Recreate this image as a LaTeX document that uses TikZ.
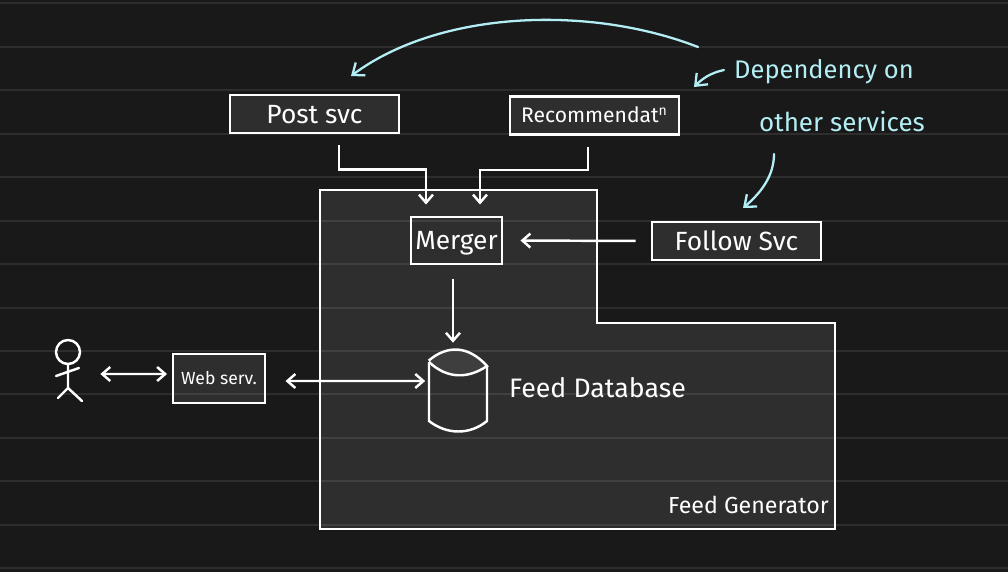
\documentclass[tikz,border=0pt]{standalone}
\usepackage{fontspec}
\setmainfont{Fira Sans}
\usetikzlibrary{arrows.meta,positioning}
\definecolor{boardbg}{HTML}{191919}
\definecolor{panelbg}{HTML}{2E2E2E}
\definecolor{lensbg}{HTML}{3E3E3E}
\definecolor{notecol}{HTML}{B4EEF5}
\begin{document}
\begin{tikzpicture}[x=0.2mm,y=-0.2mm,
  every node/.style={font=\fontsize{15}{18}\selectfont, text=white},
  svcbox/.style={rectangle, draw=white, fill=panelbg, line width=1.7pt, inner sep=0pt, text height=12pt, text depth=1.7pt},
  lbl/.style={rectangle, inner sep=0pt},
  note/.style={rectangle, inner sep=0pt, text=notecol, font=\fontsize{14.5}{18}\selectfont},
  arr/.style={draw=white, line width=1.4pt, -{Straight Barb[length=1.6mm,width=2.8mm]}},
  darr/.style={draw=white, line width=1.4pt, {Straight Barb[length=1.6mm,width=2.8mm]}-{Straight Barb[length=1.6mm,width=2.8mm]}},
  narr/.style={draw=notecol, line width=1.3pt, line cap=round, -{Straight Barb[length=2mm,width=3.2mm]}}
]
% Board and outer panel
\fill[boardbg] (0,0) rectangle (1008,572);
\useasboundingbox (0,0) rectangle (1008,572);
\draw[white, line width=1.7pt, fill=panelbg] (320,190) -- (597,190) -- (597,323) -- (835,323) -- (835,529) -- (320,529) -- cycle;
% Services
\node[svcbox, minimum width=33.8mm, minimum height=7.6mm] (post) at (314.5,114) {Post svc};
\node[svcbox, minimum width=33.8mm, minimum height=7.6mm, font=\fontsize{12}{14}\selectfont, text height=10pt] (recom) at (594.5,115.5) {Recommendat$^{\mathrm{n}}$};
\node[svcbox, minimum width=33.8mm, minimum height=7.6mm] (follow) at (736.5,241) {Follow Svc};
\node[svcbox, minimum width=18.2mm, minimum height=9.4mm] (merger) at (456.5,240.5) {Merger};
\node[svcbox, minimum width=18.4mm, minimum height=9.8mm, font=\fontsize{10}{12}\selectfont, text height=8.6pt] (web) at (219,378.5) {Web serv.};
% Database
\node[lbl, minimum width=11.6mm, minimum height=16.4mm] (db) at (458,391) {};
\draw[white, line width=1.4pt, fill=lensbg] (db.north west) ++(0,11) .. controls (447,345) and (468,345) .. (487,366) .. controls (468,379) and (447,379) .. (429,362);
\draw[white, line width=1.4pt] (429,362) -- (429,421) .. controls (447,435) and (470,435) .. (487,421) -- (487,366);
\node[lbl, font=\fontsize{15.2}{18}\selectfont] (dbname) at (597.5,388) {Feed Database};
\node[lbl, font=\fontsize{13.2}{16}\selectfont] (fgen) at (748.5,505) {Feed Generator};
% User
\node[lbl, minimum width=6mm, minimum height=12mm] (user) at (68,370) {};
\draw[white, line width=1.4pt, line cap=round] (68,352) circle (12);
\draw[white, line width=1.4pt, line cap=round] (68,364) -- (68,388) (56,376) -- (79,368) (58,398) -- (68,388) -- (82,401);
% Connectors
\draw[arr, shorten <=2.2mm, shorten >=2.2mm] ([xshift=4.9mm]post.south) -- ++(0,35) -| ([xshift=-6.1mm]merger.north);
\draw[arr, shorten <=2.2mm, shorten >=2.2mm] ([xshift=-1.3mm]recom.south) -- ++(0,34) -| ([xshift=4.7mm]merger.north);
\draw[arr, shorten <=3mm, shorten >=3.4mm] (follow.west) -- (merger.east);
\draw[arr, shorten <=2.8mm, shorten >=1.4mm] ([xshift=-0.7mm]merger.south) -- ([xshift=-1mm]db.north);
\draw[darr, shorten <=3.8mm, shorten >=0.7mm] ([yshift=-0.5mm]web.east) -- ([yshift=2mm]db.west);
\draw[darr, shorten <=3.4mm, shorten >=0.9mm] ([yshift=-0.8mm]user.east) -- ([yshift=0.9mm]web.west);
% Notes
\node[note] (depend) at (824,72) {Dependency on};
\node[note, font=\fontsize{14.8}{18}\selectfont] (other) at (842,122) {other services};
\coordinate (depa) at (698,47);
\coordinate (depb) at (351,76);
\coordinate (notea) at (724,70);
\coordinate (noteb) at (694,87);
\coordinate (othera) at (774,154);
\coordinate (otherb) at (743,208);
\draw[narr] (depa) .. controls (590,5) and (440,10) .. (depb);
\draw[narr] (notea) .. controls (710,73) and (702,79) .. (noteb);
\draw[narr] (othera) .. controls (774,175) and (762,192) .. (otherb);
% Ruled lines
\foreach \ly in {3,47,90,134,177,221,264,308,351,394,438,481,525,568}
  \draw[white, opacity=0.09, line width=0.4mm] (0,\ly) -- (1008,\ly);
\end{tikzpicture}
\end{document}
